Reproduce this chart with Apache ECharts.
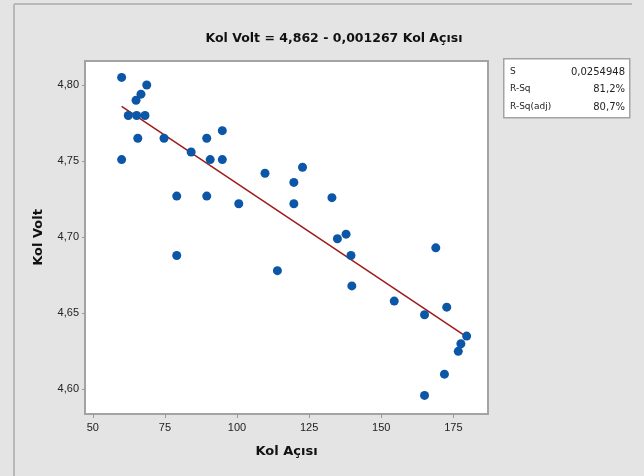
<!doctype html>
<html lang="tr">
  <head>
    <meta charset="utf-8">
    <title>Kol Volt - Kol Açısı</title>
    <script src="https://cdn.jsdelivr.net/npm/echarts@6/dist/echarts.min.js"></script>
    <style>
      html, body { margin: 0; padding: 0; background: #e4e4e4; }
      #chart { width: 644px; height: 476px; }
    </style>
  </head>
  <body>
    <div id="chart"></div>
    <script>
      // olculen noktalar (Kol Açısı, Kol Volt)
      var kolAcisi = [60, 60, 68.7, 66.7, 65, 62.3, 65.2, 68.1, 65.6, 74.7,
        89.5, 94.9, 84.1, 90.7, 94.9, 109.7, 79.1, 89.5, 100.6, 79.1,
        122.7, 119.7, 119.7, 132.9, 137.8, 134.8, 139.5, 114, 139.8, 168.9,
        154.5, 165, 172.7, 179.6, 177.6, 176.7, 171.9, 165];
      var kolVolt = [4.805, 4.751, 4.800, 4.794, 4.790, 4.780, 4.780, 4.780, 4.765, 4.765,
        4.765, 4.770, 4.756, 4.751, 4.751, 4.742, 4.727, 4.727, 4.722, 4.688,
        4.746, 4.736, 4.722, 4.726, 4.702, 4.699, 4.688, 4.678, 4.668, 4.693,
        4.658, 4.649, 4.654, 4.635, 4.630, 4.625, 4.610, 4.596];

      // regresyon dogrusu uc noktalari
      var fitX = [60, 180];
      var fitY = [4.786, 4.634];

      var xTicks = [50, 75, 100, 125, 150, 175];
      var yTicks = [4.60, 4.65, 4.70, 4.75, 4.80];

      var statNames = ['S', 'R-Sq', 'R-Sq(adj)'];
      var statValues = ['0,0254948', '81,2%', '80,7%'];

      var titleText = 'Kol Volt = 4,862 - 0,001267 Kol Açısı';

      var points = kolAcisi.map(function (x, i) { return [x, kolVolt[i]]; });
      var fitLine = fitX.map(function (x, i) { return [x, fitY[i]]; });

      function comma(v, d) { return v.toFixed(d).replace('.', ','); }

      var statGraphics = [];
      statNames.forEach(function (name, i) {
        statGraphics.push({
          type: 'text', left: 510, top: 67 + i * 17.5,
          style: { text: name, font: '9px "DejaVu Sans"', fill: '#222' }
        });
        statGraphics.push({
          type: 'text', right: 19, top: 67 + i * 17.5,
          style: { text: statValues[i], font: '10px "DejaVu Sans"', fill: '#222', textAlign: 'right' }
        });
      });

      var chart = echarts.init(document.getElementById('chart'));
      var option = {
        backgroundColor: '#e4e4e4',
        animation: false,
        title: {
          text: titleText,
          left: 329, top: 27, textAlign: 'center',
          textStyle: { fontFamily: 'DejaVu Sans', fontSize: 12.5, fontWeight: 'bold', color: '#111' }
        },
        grid: {
          left: 85, top: 61, right: 156, bottom: 62,
          show: true, backgroundColor: '#ffffff', borderColor: '#a3a3a3', borderWidth: 2
        },
        xAxis: {
          type: 'value', min: 47.3, max: 187,
          name: 'Kol Açısı', nameLocation: 'middle', nameGap: 31,
          nameTextStyle: { fontFamily: 'DejaVu Sans', fontSize: 13, fontWeight: 'bold', color: '#111' },
          axisLine: { show: false },
          axisTick: { show: true, length: 4, customValues: xTicks, lineStyle: { color: '#999' } },
          axisLabel: {
            customValues: xTicks, margin: 8,
            fontFamily: 'Liberation Sans', fontSize: 11, color: '#222',
            formatter: function (v) { return String(v); }
          },
          splitLine: { show: false }
        },
        yAxis: {
          type: 'value', min: 4.5838, max: 4.8158,
          name: 'Kol Volt', nameLocation: 'middle', nameGap: 40, nameRotate: 90,
          nameTextStyle: { fontFamily: 'DejaVu Sans', fontSize: 13, fontWeight: 'bold', color: '#111' },
          axisLine: { show: false },
          axisTick: { show: true, length: 3, customValues: yTicks, lineStyle: { color: '#999' } },
          axisLabel: {
            customValues: yTicks, margin: 6,
            fontFamily: 'Liberation Sans', fontSize: 11, color: '#222',
            formatter: function (v) { return comma(v, 2); }
          },
          splitLine: { show: false }
        },
        graphic: [
          { type: 'line', shape: { x1: 14, y1: 4, x2: 14, y2: 476 }, style: { stroke: '#b8b8b8', lineWidth: 2 } },
          { type: 'line', shape: { x1: 14, y1: 4, x2: 632, y2: 4 }, style: { stroke: '#b8b8b8', lineWidth: 2 } },
          {
            type: 'rect', left: 503, top: 58,
            shape: { width: 126, height: 59 },
            style: { fill: '#ffffff', stroke: '#a3a3a3', lineWidth: 1.5 }
          }
        ].concat(statGraphics),
        series: [
          {
            name: 'Veri', type: 'scatter', data: points,
            symbol: 'circle', symbolSize: 9,
            itemStyle: { color: '#0b56a6', opacity: 1 }, z: 3
          },
          {
            name: 'Regresyon', type: 'line', data: fitLine,
            showSymbol: false, symbol: 'none',
            lineStyle: { color: '#a01a1a', width: 1.5 }, z: 2
          }
        ]
      };
      chart.setOption(option);
    </script>
  </body>
</html>
